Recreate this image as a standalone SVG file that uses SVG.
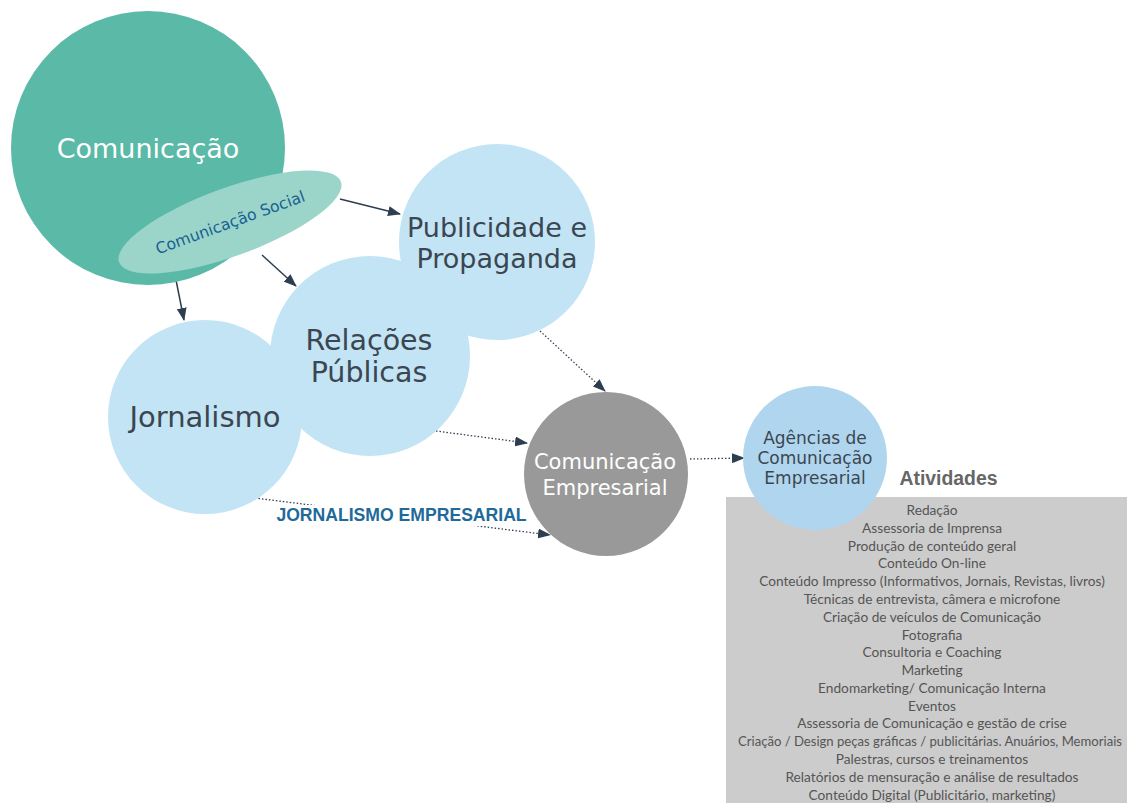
<svg xmlns="http://www.w3.org/2000/svg" width="1127" height="803" viewBox="0 0 1127 803">
<style>
.lbl{font-family:"DejaVu Sans","Liberation Sans",sans-serif;text-anchor:middle}
.dark{fill:#3b4650}
.white{fill:#ffffff}
.solid{stroke:#2d3e50;stroke-width:1.5;fill:none}
.dot{stroke:#2d3e50;stroke-width:1.3;stroke-dasharray:1.5 2;fill:none}
.list{font-family:"Lato","Liberation Sans",sans-serif;font-size:13.7px;fill:#555555;text-anchor:middle}
</style>
<defs>
<marker id="ah" markerWidth="14" markerHeight="10" refX="12" refY="5" orient="auto" markerUnits="userSpaceOnUse">
<path d="M0,0 L13,5 L0,10 Z" fill="#2d3e50"/>
</marker>
</defs>
<rect width="1127" height="803" fill="#ffffff"/>
<g id="atividades">
<rect x="726" y="497" width="401" height="306" fill="#cccccc"/>
<text x="948.5" y="485" font-family="Liberation Sans,sans-serif" font-weight="bold" font-size="19.4" fill="#666666" text-anchor="middle">Atividades</text>
<text class="list" x="932" y="515">Redação</text>
<text class="list" x="932" y="533">Assessoria de Imprensa</text>
<text class="list" x="932" y="551">Produção de conteúdo geral</text>
<text class="list" x="932" y="568">Conteúdo On-line</text>
<text class="list" x="932" y="586">Conteúdo Impresso (Informativos, Jornais, Revistas, livros)</text>
<text class="list" x="932" y="604">Técnicas de entrevista, câmera e microfone</text>
<text class="list" x="932" y="622">Criação de veículos de Comunicação</text>
<text class="list" x="932" y="640">Fotografia</text>
<text class="list" x="932" y="657">Consultoria e Coaching</text>
<text class="list" x="932" y="675">Marketing</text>
<text class="list" x="932" y="693">Endomarketing/ Comunicação Interna</text>
<text class="list" x="932" y="711">Eventos</text>
<text class="list" x="932" y="728">Assessoria de Comunicação e gestão de crise</text>
<text class="list" x="930" y="746" style="font-size:13.1px">Criação / Design peças gráficas / publicitárias. Anuários, Memoriais</text>
<text class="list" x="932" y="764">Palestras, cursos e treinamentos</text>
<text class="list" x="932" y="782">Relatórios de mensuração e análise de resultados</text>
<text class="list" x="932" y="800">Conteúdo Digital (Publicitário, marketing)</text>
</g>
<g id="connectors">
<line class="solid" x1="340" y1="199" x2="400" y2="214" marker-end="url(#ah)"/>
<line class="solid" x1="262" y1="255" x2="296" y2="286" marker-end="url(#ah)"/>
<line class="solid" x1="176" y1="280" x2="184" y2="320" marker-end="url(#ah)"/>
<line class="dot" x1="540" y1="331" x2="605" y2="391" marker-end="url(#ah)"/>
<line class="dot" x1="436" y1="431" x2="527" y2="443" marker-end="url(#ah)"/>
<line class="dot" x1="255" y1="498" x2="550" y2="535" marker-end="url(#ah)"/>
<line class="dot" x1="690" y1="459" x2="744" y2="458" marker-end="url(#ah)"/>
<rect x="272" y="505" width="258" height="21" fill="#ffffff"/>
<text x="401.5" y="521" font-family="Liberation Sans,sans-serif" font-weight="bold" font-size="17.6" fill="#1f6a9a" text-anchor="middle">JORNALISMO EMPRESARIAL</text>
</g>
<g id="comunicacao">
<circle cx="148" cy="148" r="137" fill="#5bb9a7"/>
<text class="lbl white" x="148" y="158" font-size="27">Comunicação</text>
</g>
<g id="comunicacao-social">
<ellipse cx="230" cy="222" rx="118" ry="34" transform="rotate(-20 230 222)" fill="#9bd5c9"/>
<text class="lbl" x="230" y="228" font-size="15.7" fill="#1b5f92" transform="rotate(-20 230 222)">Comunicação Social</text>
</g>
<g id="publicidade">
<circle cx="497" cy="242" r="98" fill="#c2e4f5"/>
<text class="lbl dark" x="497" y="237" font-size="27">Publicidade e</text>
<text class="lbl dark" x="497" y="268" font-size="27">Propaganda</text>
</g>
<g id="jornalismo">
<circle cx="205" cy="417" r="97" fill="#c2e4f5"/>
</g>
<g id="relacoes">
<circle cx="370" cy="356" r="100" fill="#c2e4f5"/>
<text class="lbl dark" x="369" y="350" font-size="28.5">Relações</text>
<text class="lbl dark" x="369" y="382" font-size="28.5">Públicas</text>
</g>
<text class="lbl dark" x="205" y="427" font-size="29">Jornalismo</text>
<g id="com-empresarial">
<circle cx="606" cy="474" r="82" fill="#999999"/>
<text class="lbl white" x="605" y="469" font-size="21">Comunicação</text>
<text class="lbl white" x="605" y="495" font-size="21">Empresarial</text>
</g>
<g id="agencias">
<circle cx="815" cy="458" r="72" fill="#b0d6ef"/>
<text class="lbl dark" x="815" y="444" font-size="17">Agências de</text>
<text class="lbl dark" x="815" y="464" font-size="17">Comunicação</text>
<text class="lbl dark" x="815" y="484" font-size="17">Empresarial</text>
</g>
</svg>
